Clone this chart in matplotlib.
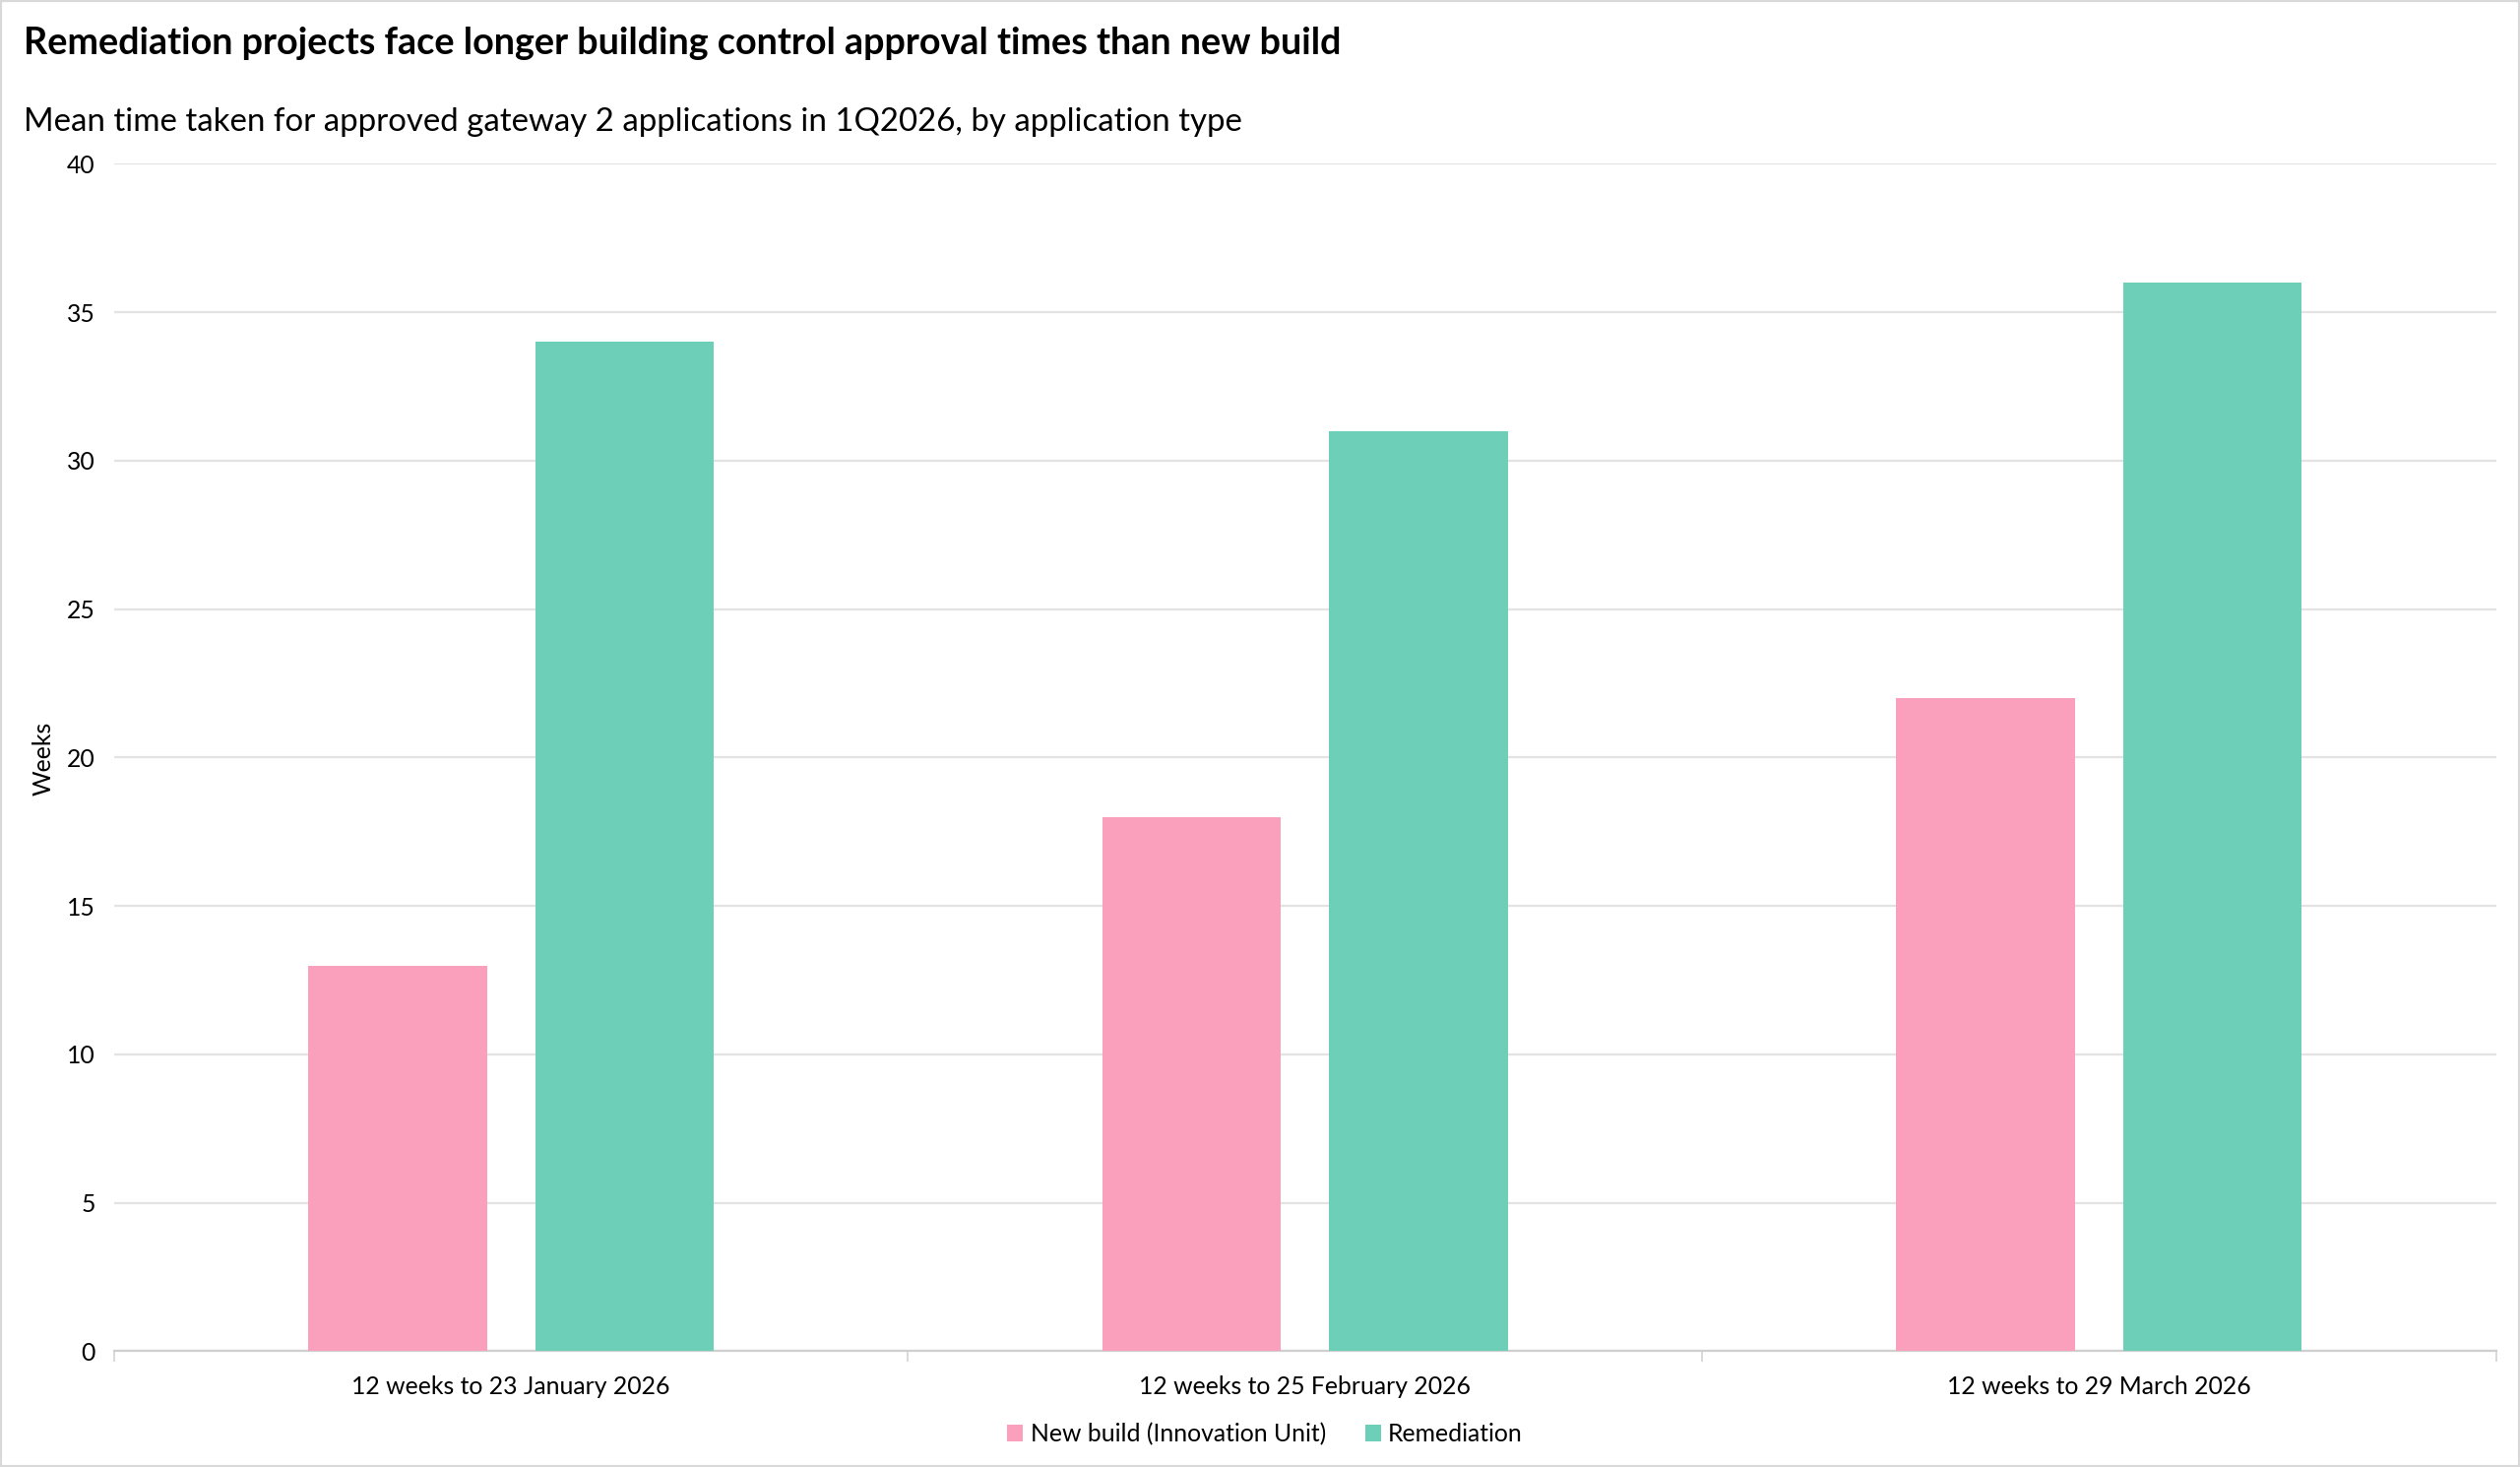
import numpy as np
import matplotlib.pyplot as plt
from matplotlib.patches import Rectangle

plt.rcParams['font.family'] = ['Lato', 'DejaVu Sans']

# données
categories = ["12 weeks to 23 January 2026",
              "12 weeks to 25 February 2026",
              "12 weeks to 29 March 2026"]
new_build = [13, 18, 22]
remediation = [34, 31, 36]
series_names = ["New build (Innovation Unit)", "Remediation"]
y_ticks = [0, 5, 10, 15, 20, 25, 30, 35, 40]

pink = "#FAA0BD"
green = "#6ECFB9"

fig = plt.figure(figsize=(25.6, 14.9), dpi=100)
ax = fig.add_axes([0.04528, 0.07886, 0.99043 - 0.04528, 0.8883 - 0.07886])

x = np.arange(len(categories))
w = 0.225
off = 0.1427
ax.bar(x - off, new_build, w, color=pink, label=series_names[0], zorder=3)
ax.bar(x + off, remediation, w, color=green, label=series_names[1], zorder=3)

ax.set_xlim(-0.5, 2.5)
ax.set_ylim(0, 40)
ax.set_yticks(y_ticks)
ax.yaxis.grid(True, color="#e3e3e3", linewidth=1.6, zorder=0)
ax.set_axisbelow(True)
for s in ["top", "right", "left"]:
    ax.spines[s].set_visible(False)
ax.spines["bottom"].set_color("#cfcfcf")
ax.spines["bottom"].set_linewidth(1.6)

ax.set_xticks(x)
ax.set_xticklabels(categories)
ax.set_xticks([-0.5, 0.5, 1.5, 2.5], minor=True)
ax.tick_params(axis="x", which="major", length=0, pad=18, labelsize=17.8)
ax.tick_params(axis="x", which="minor", length=8, color="#d9d9d9", width=1.4)
ax.tick_params(axis="y", length=0, pad=14, labelsize=17.8)

fig.text(0.0172, 0.4830, "Weeks", rotation=90, ha="center", va="center", fontsize=17.8)

fig.text(0.00957, 0.9705, "Remediation projects face longer building control approval times than new build",
         ha="left", va="center", fontsize=27.2, fontweight="bold")
fig.text(0.00957, 0.917, "Mean time taken for approved gateway 2 applications in 1Q2026, by application type",
         ha="left", va="center", fontsize=23.8)

fig.legend(loc="center", bbox_to_anchor=(0.502, 0.0225), ncol=2, frameon=False,
           fontsize=17.8, handlelength=0.65, handleheight=0.65, handletextpad=0.3, columnspacing=1.6)

fig.patches.append(Rectangle((0, 0), 1, 1, transform=fig.transFigure, fill=False,
                             edgecolor="#d9d9d9", linewidth=3))

fig.savefig("out.png", dpi=100)
